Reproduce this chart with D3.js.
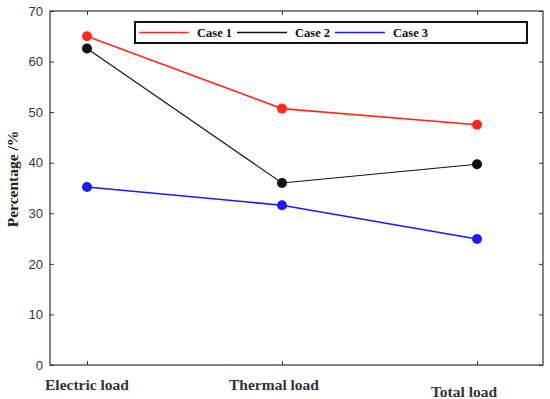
<!DOCTYPE html>
<html><head><meta charset="utf-8">
<script src="https://cdn.jsdelivr.net/npm/d3@7"></script>
<style>body{margin:0;background:#fff}svg{display:block}</style>
</head><body>
<svg id="c" width="550" height="399"></svg>
<script>
const categories = ["Electric load", "Thermal load", "Total load"];
const case1 = [65.0, 50.7, 47.5];
const case2 = [62.6, 36.0, 39.7];
const case3 = [35.2, 31.6, 24.9];
const seriesNames = ["Case 1", "Case 2", "Case 3"];
const seriesColors = ["#ff2a1a", "#111111", "#1a1aff"];
const yTicks = [0, 10, 20, 30, 40, 50, 60, 70];

const SERIF = "'Liberation Serif', 'Times New Roman', 'DejaVu Serif', serif";
const SANS = "'Liberation Sans', Arial, sans-serif";
const svg = d3.select("#c");
const L = 50, R = 543, T = 11, B = 365;
const x = d3.scalePoint().domain(categories).range([87, 477]);
const y = d3.scaleLinear().domain([0, 70]).range([B, T]);

// box
svg.append("rect").attr("x", L).attr("y", T).attr("width", R - L).attr("height", B - T)
  .attr("fill", "none").attr("stroke", "#333").attr("stroke-width", 1.2);

// left axis labels
const ya = svg.append("g").attr("transform", `translate(${L},0)`)
  .call(d3.axisLeft(y).tickValues(yTicks).tickSize(0).tickPadding(7));
ya.select(".domain").remove();
ya.selectAll("text").attr("font-family", SANS).attr("font-size", 13).attr("fill", "#333");
// inner ticks left/right
svg.append("g").attr("transform", `translate(${L},0)`).call(d3.axisRight(y).tickValues(yTicks).tickSize(4).tickFormat(""))
  .call(g => g.select(".domain").remove()).selectAll("line").attr("stroke", "#333");
svg.append("g").attr("transform", `translate(${R},0)`).call(d3.axisLeft(y).tickValues(yTicks).tickSize(4).tickFormat(""))
  .call(g => g.select(".domain").remove()).selectAll("line").attr("stroke", "#333");
// x inner ticks bottom/top
svg.append("g").attr("transform", `translate(0,${B})`).call(d3.axisTop(x).tickSize(4).tickFormat(""))
  .call(g => g.select(".domain").remove()).selectAll("line").attr("stroke", "#333");
svg.append("g").attr("transform", `translate(0,${T})`).call(d3.axisBottom(x).tickSize(4).tickFormat(""))
  .call(g => g.select(".domain").remove()).selectAll("line").attr("stroke", "#333");

// x labels
const xlabOffsets = {"Electric load": [0, 390], "Thermal load": [-8, 390], "Total load": [-13, 397]};
svg.append("g").selectAll("text").data(categories).join("text")
  .attr("x", d => x(d) + xlabOffsets[d][0]).attr("y", d => xlabOffsets[d][1])
  .attr("text-anchor", "middle").attr("font-family", SERIF)
  .attr("font-weight", "bold").attr("font-size", 15.5).attr("fill", "#333").text(d => d);

// y label
svg.append("text").attr("transform", "translate(18,179) rotate(-90)").attr("text-anchor", "middle")
  .attr("font-family", SERIF).attr("font-weight", "bold")
  .attr("font-size", 15.5).attr("fill", "#222").text("Percentage /%");

// series
const data = [case1, case2, case3];
const widths = [1.6, 1.1, 1.6];
const line = d3.line().x((d, i) => x(categories[i])).y(d => y(d));
data.forEach((vals, k) => {
  svg.append("path").datum(vals).attr("d", line).attr("fill", "none")
    .attr("stroke", seriesColors[k]).attr("stroke-width", widths[k]);
  svg.append("g").selectAll("circle").data(vals).join("circle")
    .attr("cx", (d, i) => x(categories[i])).attr("cy", d => y(d)).attr("r", 5)
    .attr("fill", seriesColors[k]);
});

// legend
svg.append("rect").attr("x", 135).attr("y", 22).attr("width", 392).attr("height", 21)
  .attr("fill", "#fff").attr("stroke", "#111").attr("stroke-width", 2);
const lx = [139, 237, 335];
seriesNames.forEach((n, k) => {
  svg.append("line").attr("x1", lx[k]).attr("x2", lx[k] + 50).attr("y1", 32.5).attr("y2", 32.5)
    .attr("stroke", seriesColors[k]).attr("stroke-width", 1.5);
  svg.append("text").attr("x", lx[k] + 58).attr("y", 37).attr("font-family", SERIF)
    .attr("font-weight", "bold").attr("font-size", 12.5).attr("fill", "#111").text(n);
});
</script>
</body></html>
